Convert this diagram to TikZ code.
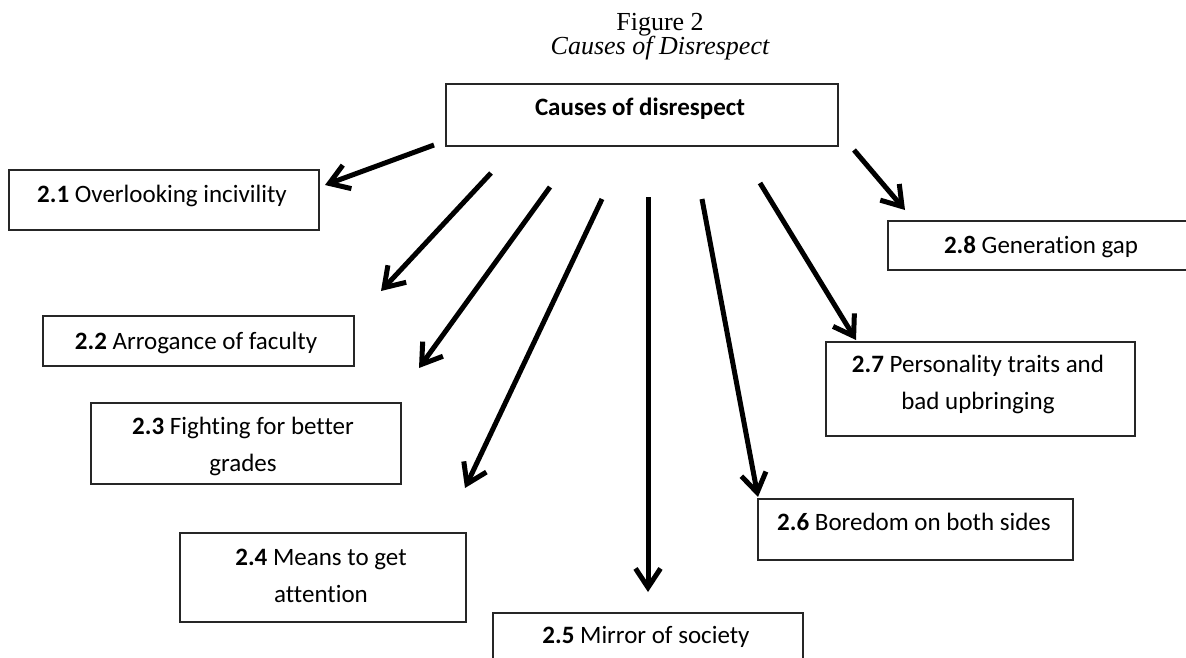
\documentclass[tikz,border=0pt]{standalone}
\usepackage{fontspec}
\setmainfont{Liberation Serif}
\newfontfamily\carl[Ligatures=NoCommon]{Carlito}
\usetikzlibrary{arrows.meta}
\begin{document}
\begin{tikzpicture}[x=1pt,y=-1pt,
  box/.style={draw=black!85, line width=1.6pt, inner sep=0pt},
  lbl/.style={font=\carl\fontsize{25}{37}\selectfont, anchor=base, inner sep=0pt, align=center},
  ttl/.style={font=\fontsize{26}{30}\selectfont, anchor=base, inner sep=0pt},
  arr/.style={line width=5pt, -{Straight Barb[length=19pt,width=25pt]}}]
\useasboundingbox (0,0) rectangle (1186,657);
% title
\node[ttl] (fig) at (660,30) {Figure 2};
\node[ttl, font=\itshape\fontsize{26}{30}\selectfont] (cap) at (660,54) {Causes of Disrespect};
% boxes
\node[box, minimum width=392pt, minimum height=62pt] (main) at (642,115) {};
\node[box, minimum width=310pt, minimum height=60pt] (b1) at (164,200) {};
\node[box, minimum width=311pt, minimum height=50pt] (b2) at (198.5,341) {};
\node[box, minimum width=310pt, minimum height=81pt] (b3) at (246,443.5) {};
\node[box, minimum width=286pt, minimum height=89pt] (b4) at (323,577.5) {};
\node[box, minimum width=310pt, minimum height=87pt] (b5) at (648,656.5) {};
\node[box, minimum width=315pt, minimum height=61pt] (b6) at (915.5,529.5) {};
\node[box, minimum width=309pt, minimum height=94pt] (b7) at (980.5,389) {};
\node[box, minimum width=306pt, minimum height=49pt] (b8) at (1041,245.5) {};
% texts (for two-line texts the base anchor is the last line)
\node[lbl] (t0) at (640,115) {\textbf{Causes of disrespect}};
\node[lbl] (t1) at (162,202) {\textbf{2.1} Overlooking incivility};
\node[lbl] (t2) at (196,349) {\textbf{2.2} Arrogance of faculty};
\node[lbl] (t3) at (243,471) {\textbf{2.3} Fighting for better\\grades};
\node[lbl] (t4) at (321,602) {\textbf{2.4} Means to get\\attention};
\node[lbl] (t5) at (646,643) {\textbf{2.5} Mirror of society};
\node[lbl] (t6) at (914,530) {\textbf{2.6} Boredom on both sides};
\node[lbl] (t7) at (978,409) {\textbf{2.7} Personality traits and\\bad upbringing};
\node[lbl] (t8) at (1041,253) {\textbf{2.8} Generation gap};
% arrow ends
\coordinate (s1) at (434,145); \coordinate (e1) at (325,185);
\coordinate (s2) at (491,173); \coordinate (e2) at (381,291);
\coordinate (s3) at (550,187); \coordinate (e3) at (419,368);
\coordinate (s4) at (602,199); \coordinate (e4) at (465,488);
\coordinate (s5) at (648,197); \coordinate (e5) at (648,592);
\coordinate (s6) at (702,199); \coordinate (e6) at (758,497);
\coordinate (s7) at (760,183); \coordinate (e7) at (856,340);
\coordinate (s8) at (854,150); \coordinate (e8) at (905,210);
\foreach \i in {1,...,8} \draw[arr] (s\i) -- (e\i);
\end{tikzpicture}
\end{document}
